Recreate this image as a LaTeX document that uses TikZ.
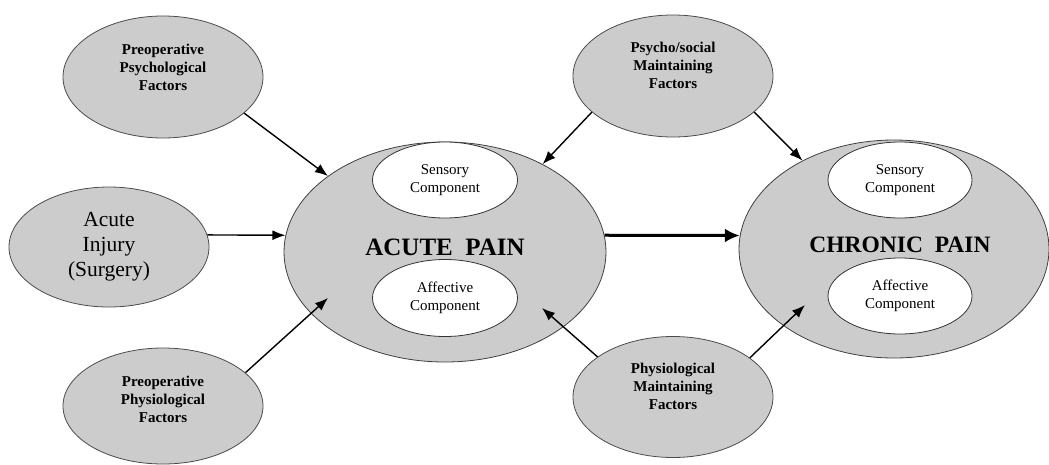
\documentclass[tikz,border=0pt]{standalone}
\usepackage{fontspec}
\setmainfont{Liberation Serif}
\usetikzlibrary{shapes.geometric,arrows.meta}
\begin{document}
\begin{tikzpicture}[x=1pt,y=-1pt,
    factor/.style={ellipse,draw=black!70,line width=0.8pt,fill=gray!40,
        minimum width=200pt,minimum height=122pt,inner sep=0pt},
    factortext/.style={align=center,font=\fontsize{15}{18}\selectfont\bfseries},
    pain/.style={ellipse,draw=black!75,line width=0.8pt,fill=gray!40,inner sep=0pt},
    paintext/.style={font=\bfseries},
    comp/.style={ellipse,draw=black!80,line width=0.8pt,fill=white,
        minimum width=145pt,minimum height=76pt,inner sep=0pt,
        align=center,font=\fontsize{15}{17.5}\selectfont}]
    \useasboundingbox (0,0) rectangle (1049,464);

    % factors on the left
    \node[factor] (prepsy) at (163,77) {};
    \node[factortext] (prepsylbl) at ([yshift=10pt]prepsy.center) {Preoperative\\Psychological\\Factors};
    \node[factor,minimum height=120pt] (injury) at (109,247) {};
    \node[align=center,font=\fontsize{21.5}{25}\selectfont] (injurylbl) at (injury.center) {Acute\\Injury\\(Surgery)};
    \node[factor,minimum height=116pt] (prephys) at (163,406) {};
    \node[factortext] (prephyslbl) at ([yshift=7pt]prephys.center) {Preoperative\\Physiological\\Factors};

    % maintaining factors
    \node[factor] (psysoc) at (673,76) {};
    \node[factortext] (psysoclbl) at ([yshift=11pt]psysoc.center) {Psycho/social\\Maintaining\\Factors};
    \node[factor,minimum height=121pt] (physmain) at (673,397) {};
    \node[factortext] (physmainlbl) at ([yshift=11pt]physmain.center) {Physiological\\Maintaining\\Factors};

    % acute pain
    \node[pain,minimum width=322pt,minimum height=220pt] (acute) at (445,252) {};
    \node[comp] (acsens) at (445,180) {Sensory\\Component};
    \node[comp,minimum height=77pt] (acaff) at (445,298) {Affective\\Component};
    \node[paintext,font=\fontsize{25}{28}\selectfont\bfseries] (acutelbl) at (445,247) {ACUTE\ \ PAIN};

    % chronic pain
    \node[pain,minimum width=310pt,minimum height=218pt] (chronic) at (894,249) {};
    \node[comp,minimum width=144pt] (chsens) at (900,180) {Sensory\\Component};
    \node[comp,minimum width=144pt] (chaff) at (900,296) {Affective\\Component};
    \node[paintext,font=\fontsize{23.5}{26}\selectfont\bfseries] (chroniclbl) at (900,245) {CHRONIC\ \ PAIN};

    \coordinate (acuteSW) at (328,298);
    \coordinate (acuteSE) at (542,308);
    \coordinate (chronicSW) at (805,305);

    \begin{scope}[->,>={Latex[length=13pt,width=10pt]},line width=1.4pt]
        \draw (prepsy.-24) -- (acute.147);
        \draw (injury.7) -- (acute.174);
        \draw (prephys.22) -- (acuteSW);
        \draw (psysoc.-156) -- (acute.42);
        \draw (psysoc.-24) -- (chronic.136);
        \draw (physmain.152) -- (acuteSE);
        \draw (physmain.27) -- (chronicSW);
    \end{scope}
    \draw[->,>={Latex[length=15pt,width=14pt]},line width=3pt] (acute.6) -- (chronic.175);
\end{tikzpicture}
\end{document}
